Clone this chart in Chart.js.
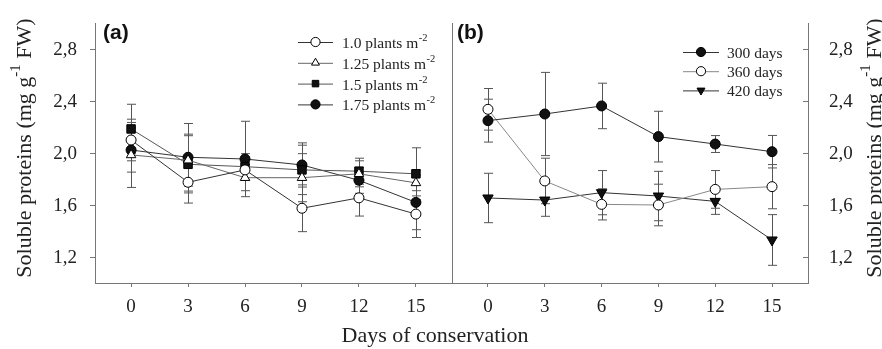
<!DOCTYPE html>
<html><head><meta charset="utf-8">
<script src="https://cdn.jsdelivr.net/npm/chart.js@4/dist/chart.umd.min.js"></script>
<style>
html,body{margin:0;padding:0;background:#fff;}
#wrap{position:relative;width:882px;height:349px;background:#fff;}
canvas{position:absolute;left:0;top:0;}
</style></head><body>
<div id="wrap"><canvas id="ca" width="882" height="349"></canvas><canvas id="cb" width="882" height="349"></canvas></div>
<script>
// ---- data ----
const days = [0, 3, 6, 9, 12, 15];
const yTicks = [1.2, 1.6, 2.0, 2.4, 2.8];

// panel (a): plant density
const labelsA = ['1.0 plants m', '1.25 plants m', '1.5 plants m', '1.75 plants m'];
const supA = '-2';
const d10  = [2.10, 1.775, 1.87, 1.575, 1.655, 1.53];
const e10  = [0.16, 0.16, 0.08, 0.18, 0.14, 0.18];
const d125 = [1.985, 1.945, 1.81, 1.81, 1.84, 1.77];
const e125 = [0.25, 0.20, 0.10, 0.185, 0.10, 0.10];
const d15  = [2.185, 1.913, 1.895, 1.87, 1.86, 1.84];
const e15  = [0.19, 0.22, 0.10, 0.19, 0.10, 0.20];
const d175 = [2.023, 1.967, 1.954, 1.908, 1.79, 1.62];
const e175 = [0.17, 0.26, 0.29, 0.17, 0.10, 0.21];

// panel (b): plant age
const labelsB = ['300 days', '360 days', '420 days'];
const d300 = [2.249, 2.30, 2.362, 2.126, 2.069, 2.01];
const e300 = [0.165, 0.32, 0.175, 0.195, 0.065, 0.125];
const d360 = [2.336, 1.785, 1.605, 1.60, 1.72, 1.741];
const e360 = [0.16, 0.175, 0.12, 0.16, 0.145, 0.17];
const d420 = [1.654, 1.638, 1.695, 1.669, 1.628, 1.331];
const e420 = [0.19, 0.125, 0.17, 0.19, 0.10, 0.195];

const yTitle = 'Soluble proteins (mg g';
const ySup = '-1';
const yTitleEnd = ' FW)';
const xTitle = 'Days of conservation';
const panelA = '(a)';
const panelB = '(b)';

// ---- helpers ----
const SERIF = '"Liberation Serif", "Times New Roman", serif';
const SANS = '"Liberation Sans", Arial, sans-serif';
const pts = arr => days.map((d, i) => ({x: d, y: arr[i]}));
const noPad = s => { s.paddingTop = 0; s.paddingBottom = 0; s.paddingLeft = 0; s.paddingRight = 0; };

function drawMarker(ctx, style, x, y, r, fill, rot) {
  ctx.save();
  ctx.fillStyle = fill; ctx.strokeStyle = '#000'; ctx.lineWidth = 1;
  ctx.beginPath();
  if (style === 'circle') ctx.arc(x, y, r, 0, Math.PI * 2);
  else if (style === 'rect') { const s = r * Math.SQRT1_2; ctx.rect(x - s, y - s, 2 * s, 2 * s); }
  else if (style === 'triangle') {
    let a = (rot || 0) * Math.PI / 180;
    ctx.moveTo(x + Math.sin(a) * r, y - Math.cos(a) * r);
    a += 2 * Math.PI / 3; ctx.lineTo(x + Math.sin(a) * r, y - Math.cos(a) * r);
    a += 2 * Math.PI / 3; ctx.lineTo(x + Math.sin(a) * r, y - Math.cos(a) * r);
    ctx.closePath();
  }
  ctx.fill(); ctx.stroke();
  ctx.restore();
}

function drawYTitle(ctx, bx, cy) {
  ctx.save();
  ctx.translate(bx, cy); ctx.rotate(-Math.PI / 2);
  ctx.fillStyle = '#222'; ctx.textBaseline = 'alphabetic'; ctx.textAlign = 'left';
  ctx.font = '22px ' + SERIF;
  const w1 = ctx.measureText(yTitle).width, w3 = ctx.measureText(yTitleEnd).width;
  ctx.font = '15px ' + SERIF;
  const w2 = ctx.measureText(ySup).width;
  const s = -(w1 + w2 + w3) / 2;
  ctx.font = '22px ' + SERIF;
  ctx.fillText(yTitle, s, 0);
  ctx.fillText(yTitleEnd, s + w1 + w2, 0);
  ctx.font = '15px ' + SERIF;
  ctx.fillText(ySup, s + w1, -11);
  ctx.restore();
}

const errorBars = {
  id: 'errorBars',
  beforeDatasetsDraw(chart) {
    const {ctx, scales: {x, y}} = chart;
    ctx.save(); ctx.lineWidth = 1; ctx.strokeStyle = '#555';
    chart.data.datasets.forEach(ds => {
      ds.data.forEach((p, i) => {
        const e = ds.errors[i];
        const px = Math.round(x.getPixelForValue(p.x)) + 0.5;
        const yt = y.getPixelForValue(p.y + e), yb = y.getPixelForValue(p.y - e);
        ctx.beginPath();
        ctx.moveTo(px, yt); ctx.lineTo(px, yb);
        ctx.moveTo(px - 4.5, yt); ctx.lineTo(px + 4.5, yt);
        ctx.moveTo(px - 4.5, yb); ctx.lineTo(px + 4.5, yb);
        ctx.stroke();
      });
    });
    ctx.restore();
  }
};

function legendPlugin(id, cfg) {
  return {
    id,
    afterDraw(chart) {
      const ctx = chart.ctx;
      chart.data.datasets.forEach((ds, i) => {
        const ry = cfg.y0 + i * cfg.dy;
        ctx.save();
        ctx.strokeStyle = ds.borderColor; ctx.lineWidth = 1;
        ctx.beginPath(); ctx.moveTo(cfg.x0, ry + 0.5); ctx.lineTo(cfg.x1, ry + 0.5); ctx.stroke();
        ctx.restore();
        drawMarker(ctx, ds.pointStyle, (cfg.x0 + cfg.x1) / 2, ry, cfg.r, ds.pointBackgroundColor, ds.pointRotation);
        ctx.save();
        ctx.fillStyle = '#222'; ctx.textBaseline = 'alphabetic'; ctx.textAlign = 'left';
        ctx.font = cfg.size + 'px ' + SERIF;
        ctx.fillText(ds.label, cfg.tx, ry + 6);
        if (cfg.sup) {
          const w = ctx.measureText(ds.label).width;
          ctx.font = '10.5px ' + SERIF;
          ctx.fillText(cfg.sup, cfg.tx + w + 0.5, ry - 1);
        }
        ctx.restore();
      });
    }
  };
}

const commonX = {
  type: 'linear', min: -1.9, max: 16.9, position: 'bottom',
  afterBuildTicks: s => { s.ticks = days.map(v => ({value: v})); },
  afterFit: s => { s.height = 66; noPad(s); },
  grid: {drawOnChartArea: false, drawTicks: true, tickLength: 4, color: '#777'},
  border: {display: true, color: '#777', width: 1},
  ticks: {font: {family: SERIF, size: 19}, color: '#222', padding: 9, maxRotation: 0, autoSkip: false}
};
const fmt = v => Number(v).toFixed(1).replace('.', ',');

// ---- chart (a) ----
const annotA = {
  id: 'annotA',
  afterDraw(chart) {
    const ctx = chart.ctx;
    drawYTitle(ctx, 31, 148);
    ctx.save();
    ctx.fillStyle = '#222'; ctx.font = '22px ' + SERIF; ctx.textAlign = 'center'; ctx.textBaseline = 'alphabetic';
    ctx.fillText(xTitle, 435, 342);
    ctx.fillStyle = '#111'; ctx.font = 'bold 21px ' + SANS; ctx.textAlign = 'left'; ctx.textBaseline = 'middle';
    ctx.fillText(panelA, 103, 33);
    ctx.restore();
  }
};

new Chart(document.getElementById('ca'), {
  type: 'line',
  data: {
    datasets: [
      {label: labelsA[0], data: pts(d10), errors: e10, borderColor: '#333', pointStyle: 'circle', pointRadius: 5, pointBackgroundColor: '#fff'},
      {label: labelsA[1], data: pts(d125), errors: e125, borderColor: '#666', pointStyle: 'triangle', pointRadius: 5.5, pointBackgroundColor: '#fff'},
      {label: labelsA[2], data: pts(d15), errors: e15, borderColor: '#555', pointStyle: 'rect', pointRadius: 6, pointBackgroundColor: '#111'},
      {label: labelsA[3], data: pts(d175), errors: e175, borderColor: '#333', pointStyle: 'circle', pointRadius: 5, pointBackgroundColor: '#111'}
    ].map(d => Object.assign({borderWidth: 1, tension: 0, pointBorderColor: '#000', pointBorderWidth: 1, pointRotation: 0, clip: false}, d))
  },
  options: {
    responsive: false, animation: false, devicePixelRatio: 1,
    layout: {padding: {left: 0, right: 430, top: 23, bottom: 0}},
    plugins: {legend: {display: false}, tooltip: {enabled: false}},
    scales: {
      x: commonX,
      y: {
        min: 1.0, max: 3.0, position: 'left',
        afterBuildTicks: s => { s.ticks = yTicks.map(v => ({value: v})); },
        afterFit: s => { s.width = 95; noPad(s); },
        grid: {drawOnChartArea: false, drawTicks: true, tickLength: 5, color: '#777'},
        border: {display: true, color: '#777', width: 1},
        ticks: {font: {family: SERIF, size: 19}, color: '#222', padding: 13, labelOffset: 1, callback: fmt}
      }
    }
  },
  plugins: [errorBars, annotA, legendPlugin('legA', {x0: 298, x1: 333, y0: 42, dy: 20.8, r: 4.6, tx: 342, size: 15.5, sup: supA})]
});

// ---- chart (b) ----
const annotB = {
  id: 'annotB',
  afterDraw(chart) {
    const ctx = chart.ctx;
    const {left, right, top, bottom} = chart.chartArea;
    const y = chart.scales.y;
    ctx.save();
    ctx.strokeStyle = '#777'; ctx.lineWidth = 1;
    ctx.beginPath(); ctx.moveTo(left + 0.5, top); ctx.lineTo(left + 0.5, bottom); ctx.stroke();
    yTicks.forEach(v => {
      const py = Math.round(y.getPixelForValue(v)) + 0.5;
      ctx.beginPath(); ctx.moveTo(right - 5, py); ctx.lineTo(right, py); ctx.stroke();
    });
    ctx.fillStyle = '#111'; ctx.font = 'bold 21px ' + SANS; ctx.textAlign = 'left'; ctx.textBaseline = 'middle';
    ctx.fillText(panelB, 457, 33);
    ctx.restore();
    drawYTitle(ctx, 881, 148);
  }
};

new Chart(document.getElementById('cb'), {
  type: 'line',
  data: {
    datasets: [
      {label: labelsB[0], data: pts(d300), errors: e300, borderColor: '#333', pointStyle: 'circle', pointRadius: 5, pointBackgroundColor: '#111', pointRotation: 0},
      {label: labelsB[1], data: pts(d360), errors: e360, borderColor: '#888', pointStyle: 'circle', pointRadius: 5, pointBackgroundColor: '#fff', pointRotation: 0},
      {label: labelsB[2], data: pts(d420), errors: e420, borderColor: '#333', pointStyle: 'triangle', pointRadius: 6, pointBackgroundColor: '#111', pointRotation: 180}
    ].map(d => Object.assign({borderWidth: 1, tension: 0, pointBorderColor: '#000', pointBorderWidth: 1, clip: false}, d))
  },
  options: {
    responsive: false, animation: false, devicePixelRatio: 1,
    layout: {padding: {left: 452, right: 0, top: 23, bottom: 0}},
    plugins: {legend: {display: false}, tooltip: {enabled: false}},
    scales: {
      x: commonX,
      y: {
        min: 1.0, max: 3.0, position: 'right',
        afterBuildTicks: s => { s.ticks = yTicks.map(v => ({value: v})); },
        afterFit: s => { s.width = 74; noPad(s); },
        grid: {drawOnChartArea: false, drawTicks: false, color: '#777'},
        border: {display: true, color: '#777', width: 1},
        ticks: {font: {family: SERIF, size: 19}, color: '#222', padding: 21, labelOffset: 1, callback: fmt}
      }
    }
  },
  plugins: [errorBars, annotB, legendPlugin('legB', {x0: 683, x1: 719, y0: 52, dy: 19.2, r: 4.6, tx: 727, size: 15.5, sup: ''})]
});
</script>
</body></html>
